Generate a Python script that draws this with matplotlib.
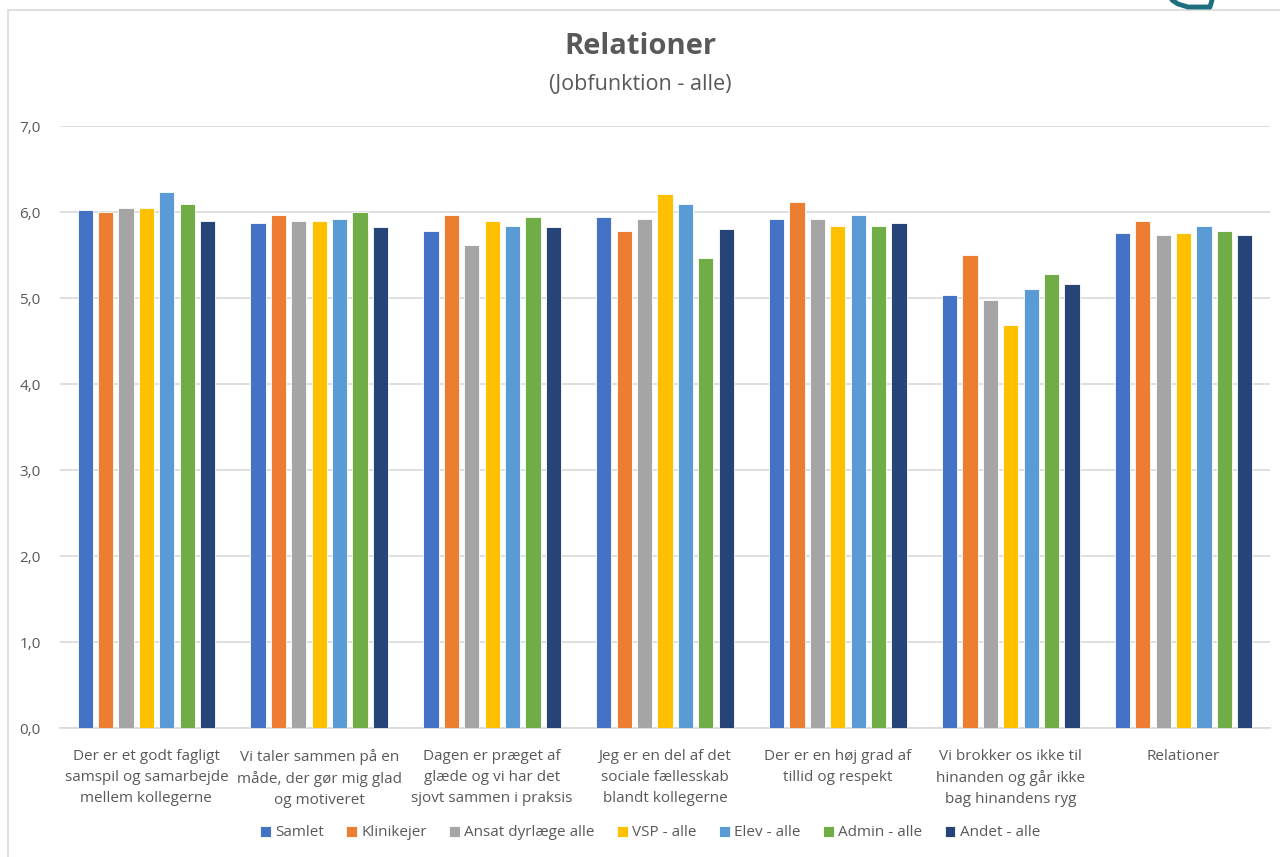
import matplotlib
matplotlib.use("Agg")
import matplotlib.pyplot as plt
import numpy as np
from matplotlib.patches import Rectangle
from matplotlib.lines import Line2D

plt.rcParams['font.family'] = ['Open Sans', 'DejaVu Sans']

categories = [
    "Der er et godt fagligt\nsamspil og samarbejde\nmellem kollegerne",
    "Vi taler sammen på en\nmåde, der gør mig glad\nog motiveret",
    "Dagen er præget af\nglæde og vi har det\nsjovt sammen i praksis",
    "Jeg er en del af det\nsociale fællesskab\nblandt kollegerne",
    "Der er en høj grad af\ntillid og respekt",
    "Vi brokker os ikke til\nhinanden og går ikke\nbag hinandens ryg",
    "Relationer",
]
series_names = ["Samlet", "Klinikejer", "Ansat dyrlæge alle", "VSP - alle",
                "Elev - alle", "Admin - alle", "Andet - alle"]
samlet     = [6.02, 5.87, 5.78, 5.94, 5.92, 5.03, 5.76]
klinikejer = [6.00, 5.96, 5.96, 5.78, 6.12, 5.50, 5.89]
ansat      = [6.05, 5.89, 5.62, 5.92, 5.92, 4.98, 5.73]
vsp        = [6.05, 5.89, 5.89, 6.21, 5.84, 4.69, 5.76]
elev       = [6.23, 5.92, 5.84, 6.09, 5.96, 5.10, 5.84]
admin      = [6.09, 6.00, 5.94, 5.46, 5.84, 5.28, 5.78]
andet      = [5.89, 5.82, 5.82, 5.80, 5.87, 5.16, 5.73]
series = [samlet, klinikejer, ansat, vsp, elev, admin, andet]
colors = ["#4472C4", "#ED7D31", "#A5A5A5", "#FFC000", "#5B9BD5", "#70AD47", "#264478"]
yticks = [0, 1, 2, 3, 4, 5, 6, 7]

fig = plt.figure(figsize=(12.8, 8.57), dpi=100)
ax = fig.add_axes([60/1280, 1-728/857, 1210/1280, 602/857])

x = np.arange(len(categories))
step = 0.118
width = 0.088
for i, (name, vals, c) in enumerate(zip(series_names, series, colors)):
    ax.bar(x + (i - 3) * step, vals, width=width, color=c, label=name,
           edgecolor="white", linewidth=0.6, zorder=3)

ax.set_xlim(-0.5, len(categories) - 0.5)
ax.set_ylim(0, 7)
ax.set_yticks(yticks)
ax.set_yticklabels([f"{v:.1f}".replace(".", ",") for v in yticks])
ax.yaxis.grid(True, color="#d9d9d9", linewidth=1.2, zorder=0)
ax.set_axisbelow(True)
for s in ["top", "right", "left"]:
    ax.spines[s].set_visible(False)
ax.spines["bottom"].set_color("#d9d9d9")
ax.spines["bottom"].set_linewidth(1.2)
ax.tick_params(axis="both", length=0, labelsize=11, colors="#595959")
ax.tick_params(axis="y", pad=14)
ax.set_xticks(x)
ax.set_xticklabels(categories, linespacing=1.55)
ax.tick_params(axis="x", pad=15)

fig.text(0.5, 1-47/857, "Relationer", ha="center", va="center",
         fontsize=21, fontweight="bold", color="#595959")
fig.text(0.5, 1-84/857, "(Jobfunktion - alle)", ha="center", va="center",
         fontsize=15.5, color="#595959")

leg = fig.legend(loc="center", bbox_to_anchor=(0.5 + 10/1280, 1-833/857), ncol=7,
                 frameon=False, fontsize=11, handlelength=0.7, handleheight=0.7,
                 handletextpad=0.3, columnspacing=1.45)
for t in leg.get_texts():
    t.set_color("#595959")

# chart frame
fig.patches.append(Rectangle((8/1280, -0.01), 1.1, 1-10/857 + 0.01,
                             transform=fig.transFigure, fill=False,
                             edgecolor="#d9d9d9", linewidth=1.2))
# partial logo at top right
fig.add_artist(Line2D([1172/1280, 1178/1280, 1188/1280, 1210/1280, 1212/1280],
                      [1.0, 1-4/857, 1-7/857, 1-7/857, 1.0],
                      transform=fig.transFigure, color="#1f6e80", linewidth=3.5,
                      solid_capstyle="round", solid_joinstyle="round"))

fig.savefig("out.png", dpi=100)
